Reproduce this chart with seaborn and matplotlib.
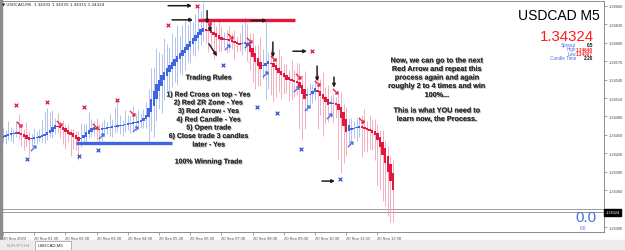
import numpy as np
import pandas as pd
import matplotlib
matplotlib.use("Agg")
import matplotlib.pyplot as plt
import seaborn as sns
from matplotlib import patheffects as pe
from matplotlib.patches import Rectangle

sns.set_theme(style="white")
plt.rcParams['font.family'] = ['Liberation Sans', 'DejaVu Sans']

# ---------------- data ----------------
closes = [
    1.34448, 1.34450, 1.34452, 1.34452, 1.34453, 1.34455,
    1.34453, 1.34450, 1.34447, 1.34444, 1.34442,
    1.34444, 1.34445, 1.34447, 1.34448, 1.34450, 1.34452,
    1.34455, 1.34458, 1.34463, 1.34466,
    1.34465, 1.34462, 1.34458, 1.34455, 1.34452, 1.34450, 1.34447, 1.34444, 1.34440,
    1.34445, 1.34450, 1.34455, 1.34458, 1.34462, 1.34463,
    1.34460, 1.34458,
    1.34460, 1.34462, 1.34462, 1.34463, 1.34463, 1.34465, 1.34465, 1.34466, 1.34466,
    1.34468, 1.34468, 1.34470, 1.34470, 1.34471, 1.34471,
    1.34475, 1.34478, 1.34483,
    1.34494, 1.34508, 1.34521, 1.34532,
    1.34540, 1.34547, 1.34553, 1.34558, 1.34563, 1.34568, 1.34573, 1.34578, 1.34583,
    1.34588, 1.34593, 1.34598, 1.34603, 1.34608, 1.34613, 1.34617, 1.34622,
    1.34624,
    1.34621, 1.34619, 1.34616, 1.34613, 1.34609, 1.34606, 1.34604,
    1.34606,
    1.34604, 1.34603, 1.34601, 1.34599, 1.34598, 1.34596,
    1.34599, 1.34601,
    1.34594, 1.34585, 1.34576, 1.34568, 1.34562, 1.34557,
    1.34562, 1.34567, 1.34570,
    1.34565, 1.34560, 1.34555, 1.34550, 1.34547, 1.34544, 1.34540, 1.34539, 1.34537,
    1.34536, 1.34535,
    1.34527, 1.34517, 1.34509,
    1.34513, 1.34517, 1.34522, 1.34526,
    1.34519, 1.34513, 1.34508, 1.34503, 1.34499,
    1.34501, 1.34500, 1.34498,
    1.34491, 1.34478, 1.34465, 1.34455,
    1.34457, 1.34458, 1.34462, 1.34463, 1.34465,
    1.34462, 1.34460, 1.34458, 1.34457, 1.34453, 1.34450,
    1.34442, 1.34431, 1.34417, 1.34404, 1.34389, 1.34375, 1.34360,
]
first_open = 1.34446

# wick lengths in points (0.00001)
wick_up = (
    [14, 8, 20, 10, 6, 18, 30, 12, 8, 22, 10, 6, 16, 9, 12, 25, 35, 38, 30, 28, 12]
    + [20, 8, 12, 6, 10, 5, 8, 6, 10, 24, 18, 12, 30, 14, 10, 16, 8]
    + [10, 14, 8, 20, 12, 30, 42, 16, 8, 22, 14, 10, 26, 12, 18, 10, 14, 20]
    + [30, 50, 40, 60, 45, 35, 55, 40, 30, 48, 36, 50, 28, 40, 45, 30, 38, 26, 34, 40, 30, 42]
    + [14, 10, 20, 16, 12, 26, 18, 10, 14, 22, 12, 18, 10, 16, 30, 40]
    + [30, 18, 24, 12, 20, 40, 26, 66, 14, 22, 16, 12, 30, 24, 14, 18, 12, 30, 16, 30]
    + [31, 16, 30, 12, 18, 10, 14, 26, 20, 36, 16, 24, 12, 14, 10]
    + [18, 24, 14, 20, 12, 16, 10, 14, 12, 18, 30, 12, 22, 16, 20, 14, 10, 18, 12, 16, 14, 20]
)
wick_dn = (
    [8, 12, 6, 10, 14, 6, 10, 18, 22, 14, 26, 12, 8, 10, 6, 9, 12, 8, 6, 10, 8]
    + [10, 16, 22, 28, 14, 34, 20, 18, 30, 12, 8, 10, 6, 8, 10, 18, 24]
    + [18, 10, 8, 12, 14, 10, 8, 12, 16, 10, 8, 14, 10, 12, 8, 10, 12, 14]
    + [40, 30, 50, 36, 28, 44, 32, 24, 40, 30, 26, 36, 22, 30, 28, 20, 26, 18, 24, 20, 16, 14]
    + [20, 34, 26, 40, 30, 22, 18, 14, 20, 16, 12, 26, 14, 10, 18, 12]
    + [24, 30, 40, 44, 33, 28, 20, 54, 40, 50, 57, 44, 30, 38, 28, 22, 34, 30, 24, 20]
    + [68, 75, 50, 24, 18, 14, 12, 60, 30, 60, 36, 28, 22, 30, 20]
    + [80, 90, 60, 40, 24, 18, 14, 20, 16, 47, 36, 36, 30, 28, 40, 75, 70, 75, 70, 70, 66, 52]
)

red_cross_bar = [5, 17, 31, 44, 63.5, 74.6, 118.8]
red_cross_price = [1.34499, 1.34504, 1.34496, 1.34506, 1.34629, 1.34660, 1.34586]
blue_cross_bar = [9.2, 29.2, 36.5, 84.6, 97.7, 105.4, 114.6, 129.6]
blue_cross_price = [1.34411, 1.34416, 1.34426, 1.34563, 1.34496, 1.34486, 1.34427, 1.34378]
red_arrow_bar = [6.2, 21.5, 35.4, 49.6, 78.8, 87.3, 94.6, 103.8, 113.5, 120.8, 127.7, 137.7]
red_arrow_price = [1.34467, 1.34470, 1.34465, 1.34485, 1.34634, 1.34611, 1.34604,
                   1.34575, 1.34545, 1.34535, 1.34521, 1.34475]
blue_arrow_bar = [11.5, 37.7, 50.8, 86.2, 93.8, 100.8, 112.7, 116.9, 125.4, 133.5]
blue_arrow_price = [1.34429, 1.34448, 1.34460, 1.34593, 1.34596, 1.34549, 1.34524,
                    1.34494, 1.34480, 1.34435]

note_x0 = [63.5, 65.0, 78.5, 79.6, 79.2, 95.4, 111.5, 103.8, 120.8, 127.3, 122.7]
note_p0 = [1.34660, 1.34637, 1.34652, 1.34627, 1.34598, 1.34636, 1.34586, 1.34601, 1.34562, 1.34544, 1.34375]
note_x1 = [72.7, 73.1, 78.5, 79.6, 82.3, 101.5, 116.9, 103.8, 120.8, 127.3, 127.7]
note_p1 = [1.34660, 1.34637, 1.34631, 1.34617, 1.34578, 1.34636, 1.34586, 1.34576, 1.34537, 1.34527, 1.34375]

red_zone = (75.0, 112.3, 1.34637)
blue_zone = (28.1, 65.0, 1.34437)
bid_levels = [1.34330, 1.34325]
current_price = "1.34324"

y_ticks = [1.34300, 1.34360, 1.34390, 1.34420, 1.34450, 1.34480, 1.34510,
           1.34540, 1.34570, 1.34600, 1.34630, 1.34660]
time_bars = [0, 12, 24, 36, 48, 60, 72, 84, 96, 108, 120, 132, 144]
time_labels = ["20 Sep 2023", "20 Sep 01:30", "20 Sep 02:30", "20 Sep 03:30",
               "20 Sep 04:30", "20 Sep 05:30", "20 Sep 06:30", "20 Sep 07:30",
               "20 Sep 08:30", "20 Sep 09:30", "20 Sep 10:30", "20 Sep 11:30",
               "20 Sep 12:30"]

rules_lines = ["Trading Rules", "1) Red Cross on top - Yes", "2) Red ZR Zone - Yes",
               "3) Red Arrow - Yes", "4) Red Candle - Yes", "5) Open trade",
               "6) Close trade 3 candles", "later - Yes", "100% Winning Trade"]
rules_y = [79, 96, 104, 112.5, 121, 129, 137.5, 146, 163]
note_lines = ["Now, we can go to the next", "Red Arrow and repeat this",
              "process again and again", "roughly 2 to 4 times and win", "100%...",
              "This is what YOU need to", "learn now, the Process."]
note_y = [62, 70.5, 79, 87.5, 96.5, 112, 120.5]

# ---------------- figure ----------------
W, H = 625, 251
fig = plt.figure(figsize=(W / 100, H / 100), dpi=100)
fig.patch.set_facecolor("white")


def fx(px):
    return px / W


def fy(py):
    return 1 - py / H


ax = fig.add_axes([fx(2), fy(233), fx(604) - fx(2), fy(2) - fy(233)])
ax.set_facecolor("white")

RED = "#e3173d"
BLUE = "#3f66e0"
RED_W = "#f3a0b4"
BLUE_W = "#a3b8f0"

df = pd.DataFrame({"close": closes, "up": wick_up, "dn": wick_dn})
df["bar"] = np.arange(len(df))
prev = df["close"].shift(1).fillna(first_open)
df["rise"] = df["close"] >= prev
# smoothed (Heiken-Ashi style) open
ha_open = [first_open]
for i in range(1, len(df)):
    ha_open.append((ha_open[-1] + df["close"].iloc[i - 1]) / 2)
df["open"] = ha_open
df["top"] = df[["open", "close"]].max(axis=1)
df["bot"] = df[["open", "close"]].min(axis=1)
minb = 0.000025
small = (df["top"] - df["bot"]) < minb
mid = (df["top"] + df["bot"]) / 2
df.loc[small, "top"] = mid[small] + minb / 2
df.loc[small, "bot"] = mid[small] - minb / 2
df["high"] = df["top"] + df["up"] * 1e-5
df["low"] = df["bot"] - df["dn"] * 1e-5

wcol = np.where(df["rise"], BLUE_W, RED_W)
bcol = np.where(df["rise"], BLUE, RED)
ax.vlines(df["bar"], df["low"], df["high"], colors=wcol, lw=0.6, zorder=2)
ax.bar(df["bar"], df["top"] - df["bot"], bottom=df["bot"], width=0.9,
       color=bcol, linewidth=0, zorder=3)

# zones
ax.hlines(red_zone[2], red_zone[0], red_zone[1], color=RED, lw=2.4, zorder=4)
ax.hlines(blue_zone[2], blue_zone[0], blue_zone[1], color=BLUE, lw=2.4, zorder=4)

for lv in bid_levels:
    ax.axhline(lv, color="#8a8a8a", lw=0.6, zorder=1)

# markers
sns.scatterplot(x=red_cross_bar, y=red_cross_price, marker="x", color=RED,
                s=7, linewidth=0.9, ax=ax, zorder=5)
sns.scatterplot(x=blue_cross_bar, y=blue_cross_price, marker="x", color="#3552c8",
                s=7, linewidth=0.9, ax=ax, zorder=5)
sns.scatterplot(x=red_arrow_bar, y=red_arrow_price, marker=r"$\searrow$", color=RED,
                edgecolor=RED, s=16, linewidth=0.3, ax=ax, zorder=5)
sns.scatterplot(x=blue_arrow_bar, y=blue_arrow_price, marker=r"$\nearrow$", color=BLUE,
                edgecolor=BLUE, s=16, linewidth=0.3, ax=ax, zorder=5)

for x0, p0, x1, p1 in zip(note_x0, note_p0, note_x1, note_p1):
    ax.annotate("", xy=(x1, p1), xytext=(x0, p0),
                arrowprops=dict(arrowstyle="-|>", color="#1e1e1e", lw=1.1,
                                mutation_scale=4.5, shrinkA=0, shrinkB=0), zorder=6)

# axes limits (pixel-calibrated)
px_per = 1.6251e-5
ax.set_xlim(-0.385, 231.15)
ax.set_ylim(1.34660 - (233 - 6.7) * px_per, 1.34660 + 4.7 * px_per)

ax.yaxis.tick_right()
ax.set_yticks(y_ticks)
ax.set_yticklabels([f"{v:.5f}" for v in y_ticks])
ax.set_xticks(time_bars)
ax.set_xticklabels(time_labels, ha="left")
ax.tick_params(axis="y", which="both", right=True, length=2, width=0.4,
               color="#666666", labelsize=2.8, labelcolor="#444444", pad=1.5)
ax.tick_params(axis="x", which="both", bottom=True, length=2, width=0.4,
               color="#666666", labelsize=3.0, labelcolor="#444444", pad=1.2)
for s in ax.spines.values():
    s.set_color("#7a7a7a")
    s.set_linewidth(0.6)

ax.text(1.002, 1.34324, current_price, transform=ax.get_yaxis_transform(),
        ha="left", va="center", fontsize=2.8, color="white",
        bbox=dict(boxstyle="square,pad=0.35", fc="black", ec="black"), zorder=7)

# texts
shadow = [pe.withSimplePatchShadow(offset=(0.7, -0.7), shadow_rgbFace="#9a9a9a", alpha=0.7),
          pe.Normal()]
for t, yy in zip(rules_lines, rules_y):
    fig.text(fx(209), fy(yy), t, ha="center", va="center", fontsize=5.0,
             fontweight="bold", color="#333333", path_effects=shadow)
for t, yy in zip(note_lines, note_y):
    fig.text(fx(437), fy(yy), t, ha="center", va="center", fontsize=5.2,
             fontweight="bold", color="#333333", path_effects=shadow)

fig.text(fx(600), fy(16), "USDCAD M5", ha="right", va="center", fontsize=10, color="black")
fig.text(fx(594), fy(37), current_price, ha="right", va="center", fontsize=10.8, color="#ff1c1c")
info_lab = ["Spread", "High", "Low", "Candle Time"]
info_val = ["0.5", "1.34648", "1.34307", "2:20"]
info_col = ["#111111", "#ff2020", "#ff2020", "#111111"]
info_y = [45.5, 50, 54.5, 59]
for lab, val, c, yy in zip(info_lab, info_val, info_col, info_y):
    fig.text(fx(576), fy(yy), lab, ha="right", va="center", fontsize=3.3, color="#4a6ee0")
    fig.text(fx(593), fy(yy), val, ha="right", va="center", fontsize=3.3, color=c,
             fontweight="bold")

fig.text(fx(2.5), fy(5), "\u25bc USDCAD,M5  1.34332 1.34335 1.34315 1.34324",
         ha="left", va="center", fontsize=3.0, color="#222222",
         family=["DejaVu Sans"])

fig.text(fx(596), fy(218.5), "0.0", ha="right", va="center", fontsize=11, color="#4a6ee0")
fig.text(fx(586), fy(228.5), "0.0", ha="right", va="center", fontsize=3.4, color="#4a6ee0")

# window chrome
fig.patches.append(Rectangle((0, 0), fx(1.6), 1, transform=fig.transFigure,
                             color="#8c8c8c", zorder=0))
fig.patches.append(Rectangle((0, 0), 1, fy(241), transform=fig.transFigure,
                             color="#ececec", zorder=0))
fig.patches.append(Rectangle((fx(35), 0), fx(36), fy(242), transform=fig.transFigure,
                             fc="white", ec="#9a9a9a", lw=0.5, zorder=1))
fig.text(fx(7), fy(246), "EURJPY,H4", ha="left", va="center", fontsize=3.2, color="#999999")
fig.text(fx(38), fy(246), "USDCAD,M5", ha="left", va="center", fontsize=3.2, color="#222222")

fig.savefig("out.png", dpi=100)
